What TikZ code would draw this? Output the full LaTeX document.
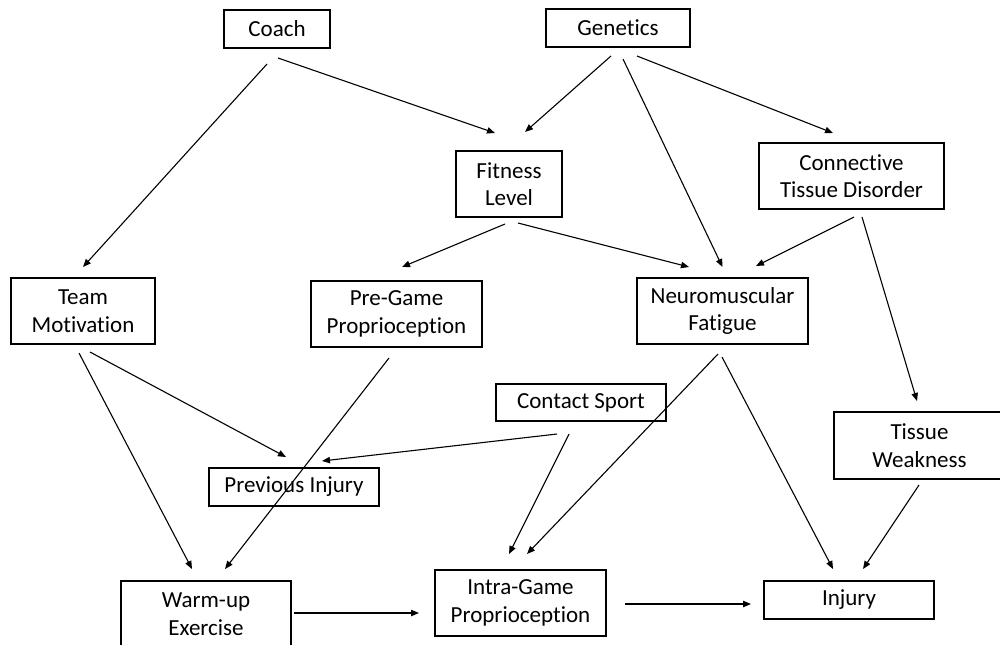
\documentclass[tikz,border=0pt]{standalone}
\usepackage{fontspec}
\setmainfont{Carlito}[Ligatures=CommonOff]
\usetikzlibrary{arrows.meta}
\begin{document}
\begin{tikzpicture}[x=0.5pt,y=-0.5pt,
  box/.style={draw,line width=0.6pt,inner sep=0pt,align=center,
    font=\fontsize{11.5}{13.8}\selectfont},
  link/.style={line width=0.55pt,-{Triangle[length=4pt,width=3.2pt]}}]
\useasboundingbox (0,0) rectangle (1000,644);
\clip (0,0) rectangle (1000,644);

% causal factors
\node[box,minimum width=53pt,minimum height=19pt] (coach) at (277,29) {Coach};
\node[box,minimum width=72pt,minimum height=19pt] (gen) at (618,28) {Genetics};
\node[box,minimum width=53pt,minimum height=33pt] (fit) at (509,184) {Fitness\\Level};
\node[box,minimum width=92.5pt,minimum height=33pt] (ctd) at (851.5,176) {Connective\\Tissue Disorder};
\node[box,minimum width=72pt,minimum height=33pt] (team) at (83,311) {Team\\Motivation};
\node[box,minimum width=85.5pt,minimum height=33pt] (pre) at (396.5,314) {Pre-Game\\Proprioception};
\node[box,minimum width=85.5pt,minimum height=33pt] (neuro) at (722.5,311) {Neuromuscular\\Fatigue};
\node[box,minimum width=85pt,minimum height=18.5pt] (contact) at (581,402.5) {Contact Sport};
\node[box,minimum width=85pt,minimum height=19pt] (prev) at (294,487) {Previous Injury};
\node[box,minimum width=85.5pt,minimum height=33.5pt] (tissue) at (919.5,445.5) {Tissue\\Weakness};
\node[box,minimum width=85pt,minimum height=33pt] (warm) at (206,614) {Warm-up\\Exercise};
\node[box,minimum width=85.5pt,minimum height=33pt] (intra) at (520.5,603) {Intra-Game\\Proprioception};
\node[box,minimum width=85pt,minimum height=19pt] (inj) at (849,600) {Injury};

% causal links
\draw[link] ([shift={(-10,35)}]coach.center) -- ([shift={(0,-44)}]team.center);
\draw[link] ([shift={(1,29)}]coach.center) -- ([shift={(-14,-51)}]fit.center);
\draw[link] ([shift={(-7,28)}]gen.center) -- ([shift={(16,-52)}]fit.center);
\draw[link] ([shift={(5,31)}]gen.center) -- ([shift={(0,-44)}]neuro.center);
\draw[link] ([shift={(19,28)}]gen.center) -- ([shift={(-18.5,-43)}]ctd.center);
\draw[link] ([shift={(-4,40)}]fit.center) -- ([shift={(5.5,-47)}]pre.center);
\draw[link] ([shift={(9,39)}]fit.center) -- ([shift={(-33.5,-44)}]neuro.center);
\draw[link] ([shift={(2.5,41)}]ctd.center) -- ([shift={(33.5,-45)}]neuro.center);
\draw[link] ([shift={(10.5,41)}]ctd.center) -- ([shift={(-2.5,-44.5)}]tissue.center);
\draw[link] ([shift={(-4,42)}]team.center) -- ([shift={(-14,-45)}]warm.center);
\draw[link] ([shift={(7,41)}]team.center) -- ([shift={(-8,-30)}]prev.center);
\draw[link] ([shift={(-7.5,44)}]pre.center) -- ([shift={(19,-45)}]warm.center);
\draw[link] ([shift={(-24,31.5)}]contact.center) -- ([shift={(28,-26)}]prev.center);
\draw[link] ([shift={(-12,31.5)}]contact.center) -- ([shift={(-11.5,-49)}]intra.center);
\draw[link] ([shift={(-4.5,43)}]neuro.center) -- ([shift={(6.5,-49)}]intra.center);
\draw[link] ([shift={(-0.5,46)}]neuro.center) -- ([shift={(-16,-31)}]inj.center);
\draw[link] ([shift={(-0.5,39.5)}]tissue.center) -- ([shift={(14,-31)}]inj.center);
\draw[link] ([shift={(88,-1)}]warm.center) -- ([shift={(-101.5,10)}]intra.center);
\draw[link] ([shift={(104.5,1)}]intra.center) -- ([shift={(-98,4)}]inj.center);
\end{tikzpicture}
\end{document}
